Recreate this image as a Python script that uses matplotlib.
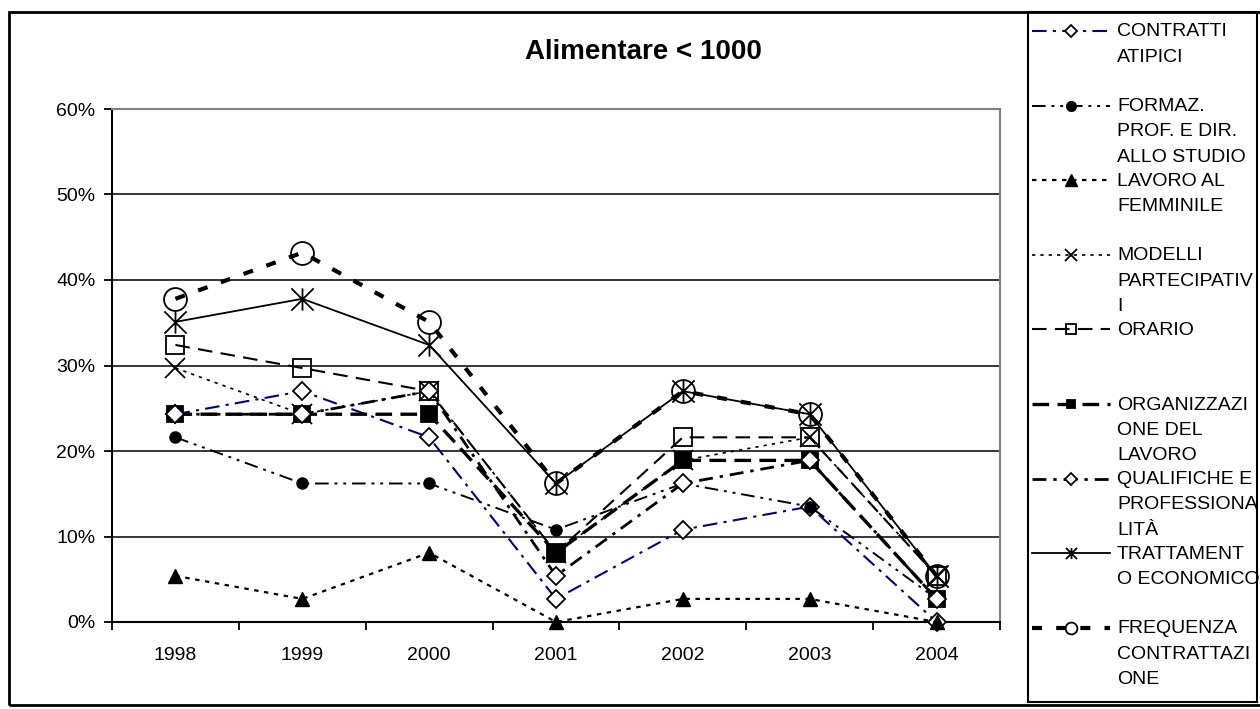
import matplotlib
matplotlib.use('Agg')
import matplotlib.pyplot as plt
from matplotlib.path import Path
from matplotlib.patches import Rectangle

plt.rcParams['font.family'] = ['Liberation Sans', 'DejaVu Sans']

# percentuali per anno
years = ['1998', '1999', '2000', '2001', '2002', '2003', '2004']
contratti_atipici = [24.3, 27.0, 21.6, 2.7, 10.8, 13.5, 0.0]
formaz_prof = [21.6, 16.2, 16.2, 10.8, 16.2, 13.5, 2.7]
lavoro_femminile = [5.4, 2.7, 8.1, 0.0, 2.7, 2.7, 0.0]
modelli_partecipativi = [29.7, 24.3, 27.0, 8.1, 18.9, 21.6, 5.4]
orario = [32.4, 29.7, 27.0, 8.1, 21.6, 21.6, 5.4]
organizzazione = [24.3, 24.3, 24.3, 8.1, 18.9, 18.9, 2.7]
qualifiche = [24.3, 24.3, 27.0, 5.4, 16.2, 18.9, 2.7]
trattamento = [35.1, 37.8, 32.4, 16.2, 27.0, 24.3, 5.4]
frequenza = [37.8, 43.2, 35.1, 16.2, 27.0, 24.3, 5.4]

labels = ['CONTRATTI\nATIPICI',
          'FORMAZ.\nPROF. E DIR.\nALLO STUDIO',
          'LAVORO AL\nFEMMINILE',
          'MODELLI\nPARTECIPATIV\nI',
          'ORARIO',
          'ORGANIZZAZI\nONE DEL\nLAVORO',
          'QUALIFICHE E\nPROFESSIONA\nLITÀ',
          'TRATTAMENT\nO ECONOMICO',
          'FREQUENZA\nCONTRATTAZI\nONE']
y_ticks = [0, 10, 20, 30, 40, 50, 60]

# asterisco tipo Excel: X + barra verticale
asterisk = Path([(0, -1), (0, 1), (-1, -1), (1, 1), (-1, 1), (1, -1)],
                [Path.MOVETO, Path.LINETO] * 3)

NAVY = '#000080'
# (valori, stile linea, dimensione simbolo in legenda)
series = [
    (contratti_atipici, dict(color=NAVY, lw=1.5, dashes=(7, 3, 1.5, 3), marker='D', ms=9,
                             mfc='white', mec='black', mew=1.3), 6),
    (formaz_prof, dict(color='black', lw=1.4, dashes=(7, 3, 1.5, 3, 1.5, 3), marker='o', ms=8,
                       mfc='black', mec='black'), 7),
    (lavoro_femminile, dict(color='black', lw=1.6, dashes=(2, 2.5), marker='^', ms=10,
                            mfc='black', mec='black'), 8),
    (modelli_partecipativi, dict(color='black', lw=1.2, dashes=(2, 3), marker='x', ms=14,
                                 mec='black', mew=1.3), 8),
    (orario, dict(color='black', lw=1.5, dashes=(7, 4), marker='s', ms=13,
                  mfc='none', mec='black', mew=1.3), 6.5),
    (organizzazione, dict(color='black', lw=2.4, dashes=(5, 2.5), marker='s', ms=11,
                          mfc='black', mec='black', mew=1.3), 6),
    (qualifiche, dict(color='black', lw=2.0, dashes=(5, 2.5, 1.2, 2.5), marker='D', ms=9,
                      mfc='white', mec='black', mew=1.3), 6),
    (trattamento, dict(color='black', lw=1.3, ls='-', marker=asterisk, ms=16,
                       mec='black', mew=1.3), 8),
    (frequenza, dict(color='black', lw=3.0, dashes=(2.4, 3.4), marker='o', ms=16.5,
                     mfc='none', mec='black', mew=1.3), 8.5),
]

fig = plt.figure(figsize=(12.6, 7.09), dpi=100)
W, H = 1260, 709

ax = fig.add_axes([112 / W, 1 - 622 / H, 888 / W, 513 / H])
x = list(range(len(years)))
for i, (vals, st, _) in enumerate(series):
    ax.plot(x, vals, clip_on=False, zorder=3 + i * 0.1, **st)

ax.set_xlim(-0.5, len(years) - 0.5)
ax.set_ylim(0, 60)
ax.set_yticks(y_ticks)
ax.set_yticklabels([f'{v}%' for v in y_ticks])
ax.set_xticks(x)
ax.set_xticklabels(years)
ax.set_xticks([i - 0.5 for i in range(len(years) + 1)], minor=True)
ax.tick_params(axis='x', which='major', length=0, pad=18, labelsize=14)
ax.tick_params(axis='x', which='minor', length=6, width=1.3, direction='out')
ax.tick_params(axis='y', length=6, width=1.3, direction='out', pad=6, labelsize=14)
ax.yaxis.grid(True, color='black', lw=1.1)
ax.set_axisbelow(True)
for side in ['left', 'bottom']:
    ax.spines[side].set_linewidth(1.5)
    ax.spines[side].set_color('black')
for side in ['top', 'right']:
    ax.spines[side].set_linewidth(1.5)
    ax.spines[side].set_color('#808080')

fig.text(643 / W, 1 - 52 / H, 'Alimentare < 1000', ha='center', va='center',
         fontsize=20, fontweight='bold')

# cornice esterna del grafico
fig.add_artist(Rectangle((9 / W, 1 - 705 / H), 1260 / W, 693 / H, transform=fig.transFigure,
                         fill=False, ec='black', lw=2))

# legenda costruita a mano: simbolo sulla prima riga di ogni voce
lax = fig.add_axes([1028 / W, 1 - 702 / H, 229 / W, 690 / H])
lax.set_xlim(0, 229)
lax.set_ylim(690, 0)
lax.set_xticks([])
lax.set_yticks([])
for sp in lax.spines.values():
    sp.set_linewidth(1.5)
    sp.set_color('black')

for i, ((vals, st, leg_ms), lab) in enumerate(zip(series, labels)):
    y0 = 19 + 74.6 * i
    line_st = {k: v for k, v in st.items() if k not in ('marker', 'ms', 'mfc', 'mec', 'mew')}
    lax.plot([4, 82], [y0, y0], **line_st)
    mk = {k: v for k, v in st.items() if k in ('marker', 'mfc', 'mec', 'mew')}
    lax.plot([43], [y0], ls='none', ms=leg_ms, **mk)
    lax.text(89, y0 - 7.5, lab, ha='left', va='top', fontsize=14, linespacing=1.64)

fig.savefig('out.png', dpi=100)
